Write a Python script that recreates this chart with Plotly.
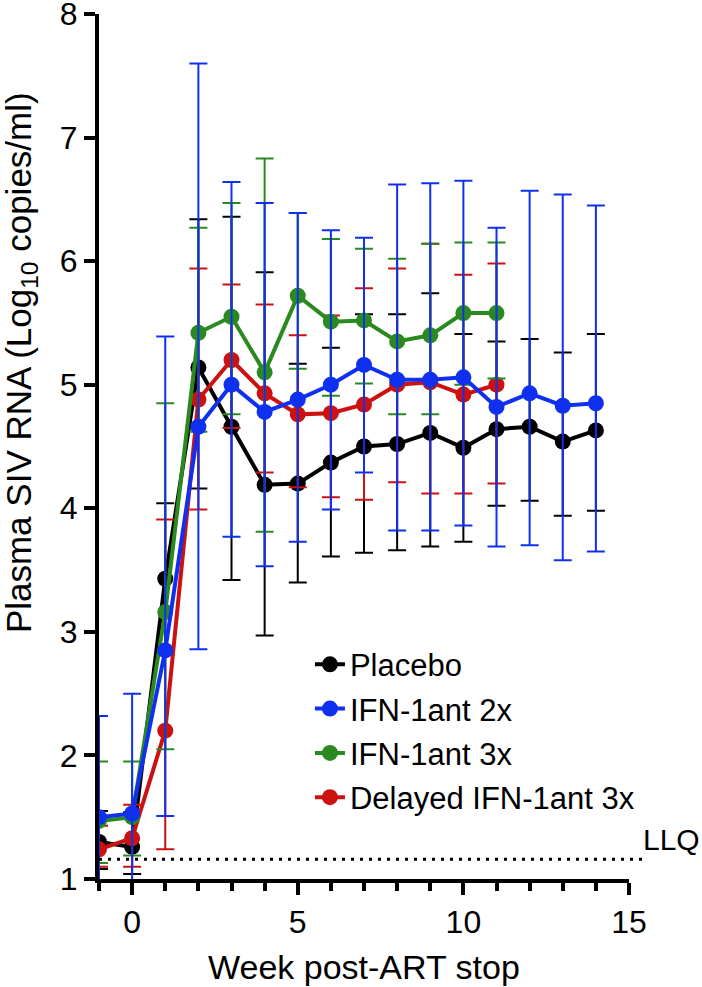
import plotly.graph_objects as go

# ---------------- data ----------------
weeks = [-1, 0, 1, 2, 3, 4, 5, 6, 7, 8, 9, 10, 11, 12, 13, 14]

placebo_mean = [1.30, 1.26, 3.43, 5.14, 4.66, 4.19, 4.20, 4.37, 4.50, 4.52, 4.61, 4.49, 4.64, 4.66, 4.54, 4.63]
placebo_upper = [1.55, 1.54, 4.04, 6.34, 6.36, 5.91, 5.17, 5.30, 5.57, 5.57, 5.74, 5.41, 5.35, 5.37, 5.26, 5.41]
placebo_lower = [1.08, 1.04, 2.88, 4.16, 3.42, 2.97, 3.40, 3.61, 3.64, 3.66, 3.69, 3.73, 4.02, 4.06, 3.94, 3.98]

ifn2x_mean = [1.50, 1.53, 2.85, 4.66, 5.00, 4.78, 4.88, 5.00, 5.16, 5.04, 5.04, 5.06, 4.82, 4.93, 4.83, 4.85]
ifn2x_upper = [2.32, 2.50, 5.39, 7.60, 6.64, 6.47, 6.39, 6.25, 6.19, 6.62, 6.63, 6.65, 6.27, 6.57, 6.54, 6.45]
ifn2x_lower = [0.60, 0.60, 1.51, 2.86, 3.77, 3.53, 3.73, 3.99, 4.29, 3.82, 3.82, 3.86, 3.69, 3.70, 3.58, 3.65]

ifn3x_weeks = [-1, 0, 1, 2, 3, 4, 5, 6, 7, 8, 9, 10, 11]
ifn3x_mean = [1.47, 1.50, 3.16, 5.42, 5.55, 5.10, 5.72, 5.51, 5.52, 5.35, 5.40, 5.58, 5.58]
ifn3x_upper = [1.95, 1.95, 4.85, 6.27, 6.47, 6.83, 6.39, 6.18, 6.10, 6.02, 6.14, 6.15, 6.15]
ifn3x_lower = [1.13, 1.19, 2.05, 4.62, 4.76, 3.81, 5.13, 4.91, 5.01, 4.76, 4.76, 5.00, 5.05]

delayed_weeks = [-1, 0, 1, 2, 3, 4, 5, 6, 7, 8, 9, 10, 11]
delayed_mean = [1.24, 1.33, 2.20, 4.88, 5.20, 4.93, 4.76, 4.77, 4.84, 5.00, 5.02, 4.92, 5.00]
delayed_upper = [1.43, 1.60, 3.91, 5.94, 5.81, 5.65, 5.40, 5.56, 5.78, 5.94, 6.14, 5.89, 5.98]
delayed_lower = [1.10, 1.10, 1.24, 3.99, 4.65, 4.29, 4.17, 4.09, 4.07, 4.21, 4.12, 4.12, 4.20]

LLQ = 1.16

y_ticks = [1, 2, 3, 4, 5, 6, 7, 8]
x_ticks = [0, 5, 10, 15]

colors = {"Placebo": "#000000", "IFN-1ant 2x": "#1030f0",
          "IFN-1ant 3x": "#2b8a1f", "Delayed IFN-1ant 3x": "#cc1111"}

FONT = "Arial, Liberation Sans, Helvetica, sans-serif"

fig = go.Figure()


def add_series(name, x, mean, upper, lower, rank):
    plus = [u - m for u, m in zip(upper, mean)]
    minus = [m - l for m, l in zip(mean, lower)]
    c = colors[name]
    fig.add_trace(go.Scatter(
        x=x, y=mean, name=name, mode="lines+markers",
        line=dict(color=c, width=4),
        marker=dict(color=c, size=16),
        error_y=dict(type="data", symmetric=False, array=plus, arrayminus=minus,
                     color=c, thickness=2, width=9),
        legendrank=rank, legendgroup=name,
    ))


# drawing order: black, red, green, blue (blue on top)
add_series("Placebo", weeks, placebo_mean, placebo_upper, placebo_lower, 1)
add_series("Delayed IFN-1ant 3x", delayed_weeks, delayed_mean, delayed_upper, delayed_lower, 4)
add_series("IFN-1ant 3x", ifn3x_weeks, ifn3x_mean, ifn3x_upper, ifn3x_lower, 3)
add_series("IFN-1ant 2x", weeks, ifn2x_mean, ifn2x_upper, ifn2x_lower, 2)

# LLQ dotted line (extends a little past the axis end)
fig.add_shape(type="line", xref="paper", yref="y", x0=0, x1=1.034, y0=LLQ, y1=LLQ,
              line=dict(color="black", width=3, dash="3px,6px"), layer="above")
fig.add_annotation(text="LLQ", xref="paper", yref="y", x=1.022, y=LLQ,
                   xanchor="left", yanchor="bottom", showarrow=False,
                   font=dict(size=30, color="black", family=FONT), yshift=1)

# axis titles as annotations (positioned like the reference)
fig.add_annotation(text="Plasma SIV RNA (Log<sub>10</sub> copies/ml)",
                   xref="paper", yref="paper", x=-0.147, y=0.5965,
                   xanchor="center", yanchor="middle", textangle=-90, showarrow=False,
                   font=dict(size=35, color="black", family=FONT))
fig.add_annotation(text="Week post-ART stop",
                   xref="paper", yref="paper", x=0.5, y=-0.1017,
                   xanchor="center", yanchor="middle", showarrow=False,
                   font=dict(size=34, color="black", family=FONT))

fig.update_layout(
    width=702, height=987,
    margin=dict(l=99, r=73, t=14, b=108, autoexpand=False),
    paper_bgcolor="white", plot_bgcolor="white",
    font=dict(family=FONT, color="black"),
    showlegend=True,
    legend=dict(x=0.398, y=0.279, xanchor="left", yanchor="top",
                font=dict(size=31, family=FONT, color="black"),
                bgcolor="rgba(0,0,0,0)", tracegroupgap=1, itemwidth=30),
)

fig.update_xaxes(
    range=[-1, 15], showgrid=False, zeroline=False, automargin=False,
    showline=True, linecolor="black", linewidth=4,
    tickmode="array", tickvals=x_ticks,
    ticks="outside", ticklen=12, tickwidth=4, tickcolor="black",
    minor=dict(dtick=1, tick0=0, ticks="outside", ticklen=8, tickwidth=4, tickcolor="black"),
    tickfont=dict(size=32, family=FONT, color="black"),
    ticklabeloverflow="allow",
)
fig.update_yaxes(
    range=[1, 8], showgrid=False, zeroline=False, automargin=False,
    showline=True, linecolor="black", linewidth=4,
    tickmode="array", tickvals=y_ticks,
    ticks="outside", ticklen=11, tickwidth=4, tickcolor="black",
    tickfont=dict(size=32, family=FONT, color="black"),
    ticklabeloverflow="allow",
)

# remove the browser's default 8px body margin so the figure fills the window exactly
fig.write_html("out.html", config={"displayModeBar": False},
               post_script="document.body.style.margin='0';")
